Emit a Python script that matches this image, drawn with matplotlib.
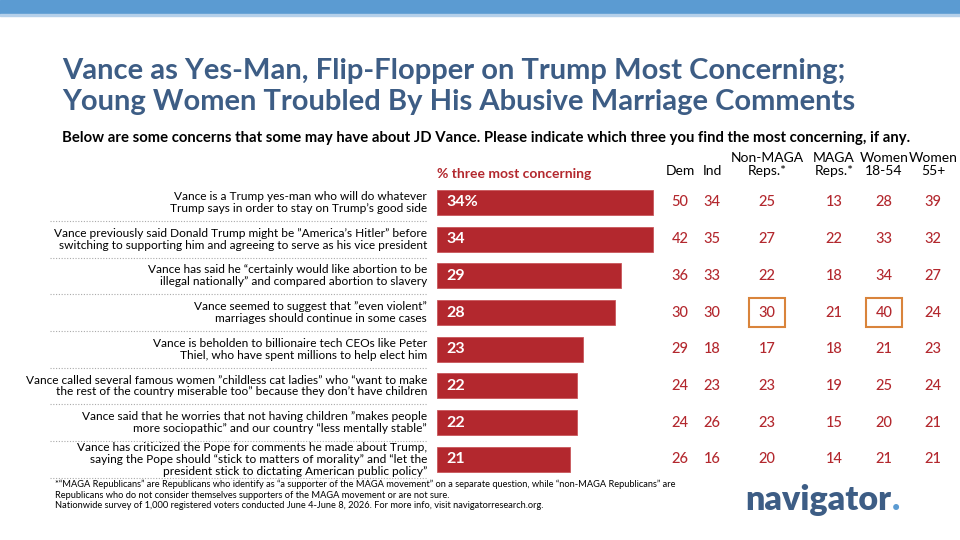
import matplotlib
matplotlib.use('Agg')
import matplotlib.pyplot as plt
from matplotlib.patches import Rectangle
from matplotlib.lines import Line2D
from matplotlib.transforms import blended_transform_factory

plt.rcParams['font.family'] = ['Lato', 'DejaVu Sans']

# 数据
labels = [
    'Vance is a Trump yes-man who will do whatever\nTrump says in order to stay on Trump\u2019s good side',
    'Vance previously said Donald Trump might be \u201dAmerica\u2019s Hitler\u201d before\nswitching to supporting him and agreeing to serve as his vice president',
    'Vance has said he \u201ccertainly would like abortion to be\nillegal nationally\u201d and compared abortion to slavery',
    'Vance seemed to suggest that \u201deven violent\u201d\nmarriages should continue in some cases',
    'Vance is beholden to billionaire tech CEOs like Peter\nThiel, who have spent millions to help elect him',
    'Vance called several famous women \u201dchildless cat ladies\u201d who \u201cwant to make\nthe rest of the country miserable too\u201d because they don\u2019t have children',
    'Vance said that he worries that not having children \u201dmakes people\nmore sociopathic\u201d and our country \u201cless mentally stable\u201d',
    'Vance has criticized the Pope for comments he made about Trump,\nsaying the Pope should \u201cstick to matters of morality\u201d and \u201clet the\npresident stick to dictating American public policy\u201d',
]
total = [34, 34, 29, 28, 23, 22, 22, 21]
dem = [50, 42, 36, 30, 29, 24, 24, 26]
ind = [34, 35, 33, 30, 18, 23, 26, 16]
non_maga = [25, 27, 22, 30, 17, 23, 23, 20]
maga = [13, 22, 18, 21, 18, 19, 15, 14]
women_1854 = [28, 33, 34, 40, 21, 25, 20, 21]
women_55 = [39, 32, 27, 24, 23, 24, 21, 21]
col_headers = ['Dem', 'Ind', 'Non-MAGA\nReps.*', 'MAGA\nReps.*', 'Women\n18-54', 'Women\n55+']
col_values = [dem, ind, non_maga, maga, women_1854, women_55]
highlight = [(2, 3), (4, 3)]  # (列, 行)

RED = '#B3282E'
NAVY = '#3D5D85'
BLUE = '#5B9BD2'

W, H = 960, 540
fig = plt.figure(figsize=(9.6, 5.4), dpi=100)


def fx(px):
    return px / W


def fy(py):
    return 1 - py / H


# 顶部色带
fig.patches.append(Rectangle((0, fy(14)), 1, 14 / H, transform=fig.transFigure,
                             color=BLUE, zorder=0))
fig.patches.append(Rectangle((0, fy(16)), 1, 2 / H, transform=fig.transFigure,
                             color='#B5D0EA', zorder=0))

# 标题
fig.text(fx(62), fy(71), 'Vance as Yes-Man, Flip-Flopper on Trump Most Concerning;',
         fontsize=21, fontweight='bold', color=NAVY, va='center')
fig.text(fx(62), fy(102), 'Young Women Troubled By His Abusive Marriage Comments',
         fontsize=21, fontweight='bold', color=NAVY, va='center')
fig.text(fx(62), fy(138), 'Below are some concerns that some may have about JD Vance. Please indicate which three you find the most concerning, if any.',
         fontsize=10.7, fontweight='bold', color='black', va='center')

# 柱状图区域
x0, x1 = 437, 960
scale = 6.35  # px per point
ax = fig.add_axes([fx(x0), fy(477.7), fx(x1 - x0), (477.7 - 184.1) / H])
ax.set_xlim(0, (x1 - x0) / scale)
ax.set_ylim(len(total) - 0.5, -0.5)
ax.axis('off')

rows = list(range(len(total)))
ax.barh(rows, total, height=0.68, color=RED, edgecolor='#C9575B', linewidth=0.6)
for i, v in enumerate(total):
    txt = f'{v}%' if i == 0 else f'{v}'
    ax.text(1.5, i, txt, color='white', fontsize=11.5, fontweight='bold', va='center', ha='left')

ax.text(0, -0.78, '% three most concerning', color=RED, fontsize=10, fontweight='bold',
        va='center', ha='left')

tr = blended_transform_factory(fig.transFigure, ax.transData)

# 行标签与分隔虚线
for i, lab in enumerate(labels):
    ax.text(fx(427), i, lab, transform=tr, ha='right', va='center', fontsize=8.6,
            color='black', linespacing=1.1)
    ax.add_line(Line2D([fx(50), fx(427)], [i + 0.5, i + 0.5], transform=tr,
                       color='#AAAAAA', linestyle=(0, (1, 1.5)), linewidth=0.8, clip_on=False))

# 分组数据列
col_x = [680, 712, 767, 834, 884, 933]
for cx, head, vals in zip(col_x, col_headers, col_values):
    ax.text(fx(cx), -0.7, head, transform=tr, ha='center', va='bottom', fontsize=10,
            color='black', linespacing=1.1)
    for i, v in enumerate(vals):
        ax.text(fx(cx), i, f'{v}', transform=tr, ha='center', va='center', fontsize=10.5,
                color=RED, fontweight='medium')

for c, r in highlight:
    cx = col_x[c]
    ax.add_patch(Rectangle((fx(cx - 18), r - 0.4), fx(36), 0.8, transform=tr,
                           fill=False, edgecolor='#D9843B', linewidth=1.5, clip_on=False))

# 脚注
foot = ('*\u201cMAGA Republicans\u201d are Republicans who identify as \u201ca supporter of the MAGA movement\u201d on a separate question, while \u201cnon-MAGA Republicans\u201d are\n'
        'Republicans who do not consider themselves supporters of the MAGA movement or are not sure.\n'
        'Nationwide survey of 1,000 registered voters conducted June 4-June 8, 2026. For more info, visit navigatorresearch.org.')
fig.text(fx(55), fy(480), foot, fontsize=6.7, color='black', va='top', linespacing=1.2)

# 标志
logo = fig.text(fx(745), fy(500), 'navigator', fontsize=24.5, fontweight='heavy', color=NAVY,
                va='center', ha='left')
fig.canvas.draw()
bb = logo.get_window_extent()
fig.text(bb.x1 / W + fx(1), fy(500), '.', fontsize=24.5, fontweight='heavy', color=BLUE,
         va='center', ha='left')

fig.savefig('out.png', dpi=100)
